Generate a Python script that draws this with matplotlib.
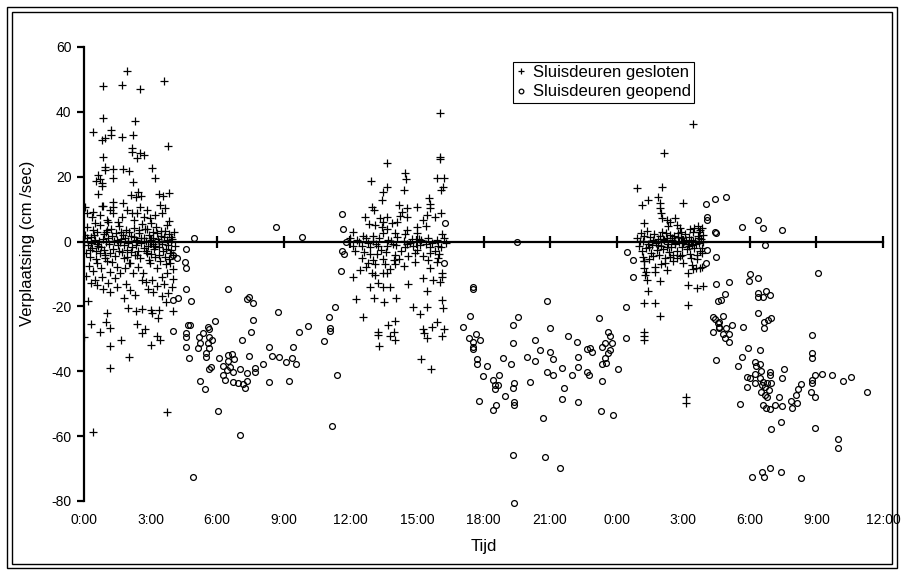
import matplotlib
matplotlib.use("Agg")
from matplotlib import pyplot as plt
from matplotlib.patches import Rectangle

plt.rcParams["font.family"] = ["Liberation Sans", "DejaVu Sans"]
plt.rcParams["axes.unicode_minus"] = False

# time in hours from 0:00 of the first day, displacement in cm/sec

# sluisdeuren gesloten (+), first period
closed_1 = [
    (1.92, 52.6), (0.84, 48.0), (1.73, 48.3), (2.52, 46.9), (3.60, 49.4), (0.84, 38.1),
    (2.30, 37.3), (0.42, 33.9), (1.22, 34.5), (1.22, 33.0), (0.95, 32.0), (0.80, 31.3),
    (1.73, 32.3), (2.19, 32.8), (3.77, 29.4), (2.18, 28.8), (2.18, 27.7), (2.52, 27.2),
    (2.72, 26.6), (2.37, 25.7), (0.84, 26.1), (0.95, 22.9), (0.95, 22.0), (1.32, 22.4),
    (1.32, 19.6), (0.62, 20.5), (0.55, 18.6), (0.70, 19.2), (0.80, 18.0), (0.82, 17.0),
    (1.77, 22.4), (2.04, 21.8), (2.19, 18.4), (3.05, 22.6), (3.20, 19.5), (0.63, 14.6),
    (2.10, 14.5), (2.45, 15.2), (2.55, 14.0), (2.35, 13.6), (3.40, 14.8), (3.55, 14.0),
    (3.85, 15.0), (1.32, 12.3), (1.32, 10.7), (0.84, 11.0), (0.05, 10.7), (0.42, 9.2),
    (0.80, 11.0), (1.17, 9.7), (1.32, 8.7), (1.77, 11.8), (1.92, 9.7), (2.15, 8.7),
    (2.37, 8.7), (2.52, 10.7), (2.83, 9.7), (2.97, 7.2), (3.20, 8.2), (3.42, 11.3),
    (3.65, 10.2), (3.50, 8.7), (0.12, 8.7), (0.35, 7.6), (0.72, 8.2), (1.02, 6.6),
    (1.55, 6.1), (1.70, 7.6),
    (0.05, 2.0), (0.08, -3.5), (0.12, 4.5), (0.18, -1.0), (0.22, -7.5), (0.27, -4.7),
    (0.30, 1.5), (0.35, -2.0), (0.40, 3.5), (0.42, -9.0), (0.48, 0.5), (0.52, -5.5),
    (0.57, -6.7), (0.60, 2.8), (0.65, -1.5), (0.70, -3.6), (0.72, 5.0), (0.78, -8.0),
    (0.80, -11.0), (0.85, 0.8), (0.90, -2.6), (0.95, -4.2), (0.98, 3.0), (1.03, -6.0),
    (1.08, 1.2), (1.12, -0.8), (1.17, -9.5), (1.20, 4.0), (1.25, -6.2), (1.30, -2.2),
    (1.35, 0.3), (1.40, -11.3), (1.45, 2.5), (1.47, -7.8), (1.52, -1.2), (1.57, 4.8),
    (1.62, -9.8), (1.66, 0.9), (1.70, -3.3), (1.75, 2.0), (1.80, -5.2), (1.85, -8.3),
    (1.88, 3.6), (1.92, -2.6), (1.97, 0.2), (2.02, -6.5), (2.07, -6.7), (2.10, 1.8),
    (2.15, -1.8), (2.20, -9.8), (2.24, 4.2), (2.30, -4.0), (2.35, 0.6), (2.37, -4.2),
    (2.42, -2.8), (2.45, -7.8), (2.50, 2.6), (2.55, -0.5), (2.60, -11.9), (2.63, 5.5),
    (2.67, -9.8), (2.72, 1.0), (2.78, -3.0), (2.82, -3.6), (2.86, 3.8), (2.92, -5.8),
    (2.97, -6.7), (3.00, 0.4), (3.05, -11.9), (3.10, 2.9), (3.15, -2.3), (3.20, -4.8),
    (3.25, 4.5), (3.28, -8.3), (3.32, 0.7), (3.38, -1.6), (3.42, -6.0), (3.45, 3.2),
    (3.50, -10.8), (3.55, -3.0), (3.60, 1.5), (3.65, -4.7), (3.68, -7.0), (3.72, 5.2),
    (3.73, -9.8), (3.78, -1.0), (3.82, 2.2), (3.85, -5.5), (3.88, -6.7), (3.92, -2.5),
    (3.96, 0.8), (4.00, -8.5), (4.05, 3.0), (4.08, -1.5), (0.30, -0.3), (1.00, 0.0),
    (2.00, -0.4), (2.80, 0.1), (3.40, -0.2), (3.90, 0.2), (1.60, -0.1), (0.60, -0.6),
    (2.40, 0.3), (3.10, -0.7),
    (0.15, 1.0), (0.25, -2.5), (0.45, 2.0), (0.55, -3.0), (0.68, 0.2), (0.75, -1.8),
    (0.88, 2.2), (0.93, -5.2), (1.05, 3.5), (1.15, -3.4), (1.28, 1.6), (1.38, -4.5),
    (1.50, 0.6), (1.58, -2.8), (1.68, 3.0), (1.78, -1.0), (1.83, 1.2), (1.95, -4.8),
    (2.05, 2.8), (2.12, -3.2), (2.27, 1.4), (2.33, -1.2), (2.47, 3.6), (2.52, -5.0),
    (2.58, 1.2), (2.69, -2.0), (2.75, 4.0), (2.88, -1.4), (2.95, 2.0), (3.02, -3.8),
    (3.13, 1.0), (3.22, -1.5), (3.30, 2.6), (3.36, -4.2), (3.48, 1.8), (3.53, -0.9),
    (3.63, 3.3), (3.70, -2.2), (3.76, 0.5), (3.86, -3.5), (3.94, 1.5), (4.02, -4.0),
    (1.10, 6.0), (2.25, 6.5), (3.00, 5.8), (3.85, 6.2), (0.50, 5.8), (2.70, 7.5),
    (0.60, -13.5), (1.50, -14.0), (2.90, -14.5), (3.30, -13.8), (1.80, -17.5), (3.70, -18.5),
    (0.30, -12.9), (0.19, -18.2), (1.10, -12.9), (1.17, -15.5), (2.07, -15.0), (2.30, -16.5),
    (3.12, -15.7), (3.50, -16.7), (3.80, -16.0), (2.00, -20.5), (2.35, -21.5), (2.60, -20.8),
    (3.00, -21.0), (3.40, -21.2), (3.05, -22.1), (3.35, -23.7), (4.03, -21.4), (1.05, -22.1),
    (0.99, -24.7), (1.17, -26.6), (0.30, -25.4), (0.72, -28.0), (0.00, -29.3), (2.37, -25.5),
    (2.75, -27.1), (2.60, -28.3), (3.27, -29.1), (3.43, -30.2), (3.01, -31.9), (1.65, -30.2),
    (1.17, -32.2), (2.04, -35.7), (1.17, -39.1), (3.72, -52.5), (0.42, -58.6), (0.10, -10.5),
    (0.50, -12.0), (1.90, -13.0), (2.80, -12.5), (3.60, -13.2), (4.00, -11.5), (3.95, -14.0),
    (0.85, -14.5),
]

# sluisdeuren gesloten (+), second period
closed_2 = [
    (16.04, 39.8), (16.04, 26.1), (16.04, 25.6), (13.64, 24.1), (14.47, 21.2), (14.50, 19.2),
    (12.93, 18.7), (15.92, 19.5), (16.22, 19.5), (16.19, 16.9), (16.07, 15.9), (13.64, 16.9),
    (13.49, 15.4), (13.44, 12.8), (14.43, 15.9), (15.56, 13.3), (15.59, 11.6), (15.59, 10.2),
    (14.21, 11.3), (14.54, 10.5), (14.99, 10.7), (12.96, 10.7), (13.08, 9.7), (12.66, 7.5),
    (12.86, 5.4), (13.11, 5.2), (13.34, 7.2), (13.49, 6.1), (13.64, 7.6), (13.41, 4.4),
    (13.64, 3.8), (13.87, 5.6), (14.09, 6.1), (14.32, 9.2), (14.24, 7.9), (14.57, 7.5),
    (14.54, 3.5), (14.99, 4.6), (15.29, 6.6), (15.44, 8.2), (15.82, 7.6), (16.07, 8.9),
    (15.41, 4.8), (12.14, 3.0), (12.59, 1.8), (13.04, 1.8), (13.49, 2.5), (14.02, 2.5),
    (14.47, 2.3), (14.99, 2.7), (16.12, 2.3),
    (12.14, -1.5), (12.51, -1.4), (12.89, -1.6), (13.26, -1.3), (13.64, -1.5), (14.06, -1.2),
    (14.47, -1.7), (14.84, -1.4), (15.14, -1.0), (15.59, -1.6), (15.97, -1.3),
    (12.51, -5.0), (12.81, -6.5), (13.11, -7.0), (13.49, -5.5), (13.56, -7.0), (14.02, -4.0),
    (14.02, -7.0), (14.93, -6.2), (15.29, -4.6), (15.59, -3.6), (15.97, -5.2), (15.89, -6.2),
    (12.44, -8.8), (12.96, -9.8), (13.11, -10.3), (13.49, -9.8), (13.64, -9.8), (16.12, -9.8),
    (16.12, -10.8), (12.00, 1.0), (12.30, 0.5), (12.70, 1.2), (13.00, 0.3), (13.30, 1.0),
    (13.70, 0.6), (14.10, 1.3), (14.40, 0.2), (14.80, 0.9), (15.20, 0.4), (15.50, 1.2),
    (15.90, 0.5), (16.20, 1.0), (12.20, -2.8), (12.80, -0.5), (13.40, -2.5), (13.90, -0.8),
    (14.30, -3.0), (14.70, -0.3), (15.00, -2.7), (15.40, -0.9), (15.80, -3.0), (16.10, -1.8),
    (16.30, -0.5), (13.20, -3.8), (14.60, -4.5), (15.60, -8.0), (13.80, -8.5), (12.60, -3.3),
    (12.40, -0.2), (13.15, -0.6), (13.85, 0.1), (14.55, -0.8), (15.10, 0.8), (15.70, -0.4),
    (12.90, -3.9), (13.60, -3.2), (14.20, -5.5), (14.90, -3.6), (15.50, -5.8), (16.00, -3.9),
    (13.00, -5.8), (13.95, -5.6), (12.70, -7.9), (14.40, -7.4),
    (12.11, -11.0), (12.89, -14.1), (13.26, -12.7), (13.49, -14.1), (13.79, -14.1), (14.61, -13.2),
    (15.29, -11.3), (15.71, -11.9), (16.04, -12.4), (15.47, -15.2), (12.26, -17.8), (13.07, -17.5),
    (13.52, -18.6), (14.06, -17.5), (14.84, -20.3), (15.14, -22.4), (15.47, -20.1), (16.12, -18.0),
    (16.16, -20.6), (12.59, -23.4), (13.71, -25.7), (14.02, -24.4), (13.26, -27.8), (13.26, -28.8),
    (13.79, -29.1), (13.97, -27.8), (14.02, -30.4), (13.30, -32.2), (15.29, -27.1), (15.32, -28.1),
    (15.44, -29.8), (15.67, -26.3), (15.89, -24.7), (16.22, -27.1), (16.12, -29.1), (15.19, -36.3),
    (15.64, -39.4),
]

# sluisdeuren gesloten (+), third period
closed_3 = [
    (27.46, 36.2), (26.15, 27.2), (24.91, 16.4), (26.03, 16.9), (25.13, 11.3), (25.43, 12.8),
    (25.84, 13.8), (25.96, 11.8), (27.01, 12.0), (25.96, 10.2), (25.99, 8.7), (26.03, 7.2),
    (26.26, 6.8), (26.41, 6.1), (26.63, 7.2), (26.71, 5.1), (26.86, 4.1), (27.31, 3.8),
    (27.68, 4.8), (27.76, 3.5), (27.84, 4.1), (25.21, 5.6), (26.33, 4.8), (27.50, 4.3),
    (27.70, 2.9),
    (24.90, 1.0), (25.00, -1.5), (25.10, 2.5), (25.15, -3.0), (25.20, 0.3), (25.30, -2.0),
    (25.35, 3.2), (25.40, -0.8), (25.50, 1.5), (25.55, -3.5), (25.60, -1.0), (25.70, 2.2),
    (25.75, -0.3), (25.80, -2.5), (25.85, 0.9), (25.90, -4.0), (25.95, 1.8), (26.00, -1.3),
    (26.05, 3.0), (26.10, -2.2), (26.15, 0.4), (26.20, -5.0), (26.25, 1.2), (26.30, -0.6),
    (26.35, -3.2), (26.40, 2.0), (26.45, -1.8), (26.50, 0.6), (26.55, -6.0), (26.60, 1.6),
    (26.65, -0.9), (26.70, -2.8), (26.75, 2.6), (26.80, -0.2), (26.85, -4.5), (26.90, 1.1),
    (26.95, -1.6), (27.00, -6.5), (27.05, 0.2), (27.10, 2.4), (27.15, -2.4), (27.20, -0.7),
    (27.25, 1.4), (27.30, -3.8), (27.35, 0.5), (27.40, -1.2), (27.45, 2.8), (27.50, -2.0),
    (27.55, 0.1), (27.60, -5.5), (27.65, 1.7), (27.70, -0.4), (27.75, -3.0), (27.80, 0.9),
    (27.85, -1.9), (27.90, 2.0), (25.25, -6.0), (25.45, -5.5), (26.00, -7.0), (27.40, -7.2),
    (25.05, 0.2), (25.25, 1.8), (25.45, -1.8), (25.65, 0.4), (25.88, -1.0), (26.08, 0.8),
    (26.28, -1.6), (26.48, 1.0), (26.62, -0.3), (26.78, 1.3), (26.98, -0.5), (27.12, 0.6),
    (27.28, -1.4), (27.42, 0.3), (27.58, -0.9), (27.72, 1.1), (27.88, -0.2), (26.22, 2.6),
    (26.88, 2.9), (25.62, -4.5), (26.72, -5.2), (27.35, -5.0),
    (25.18, -4.7), (25.21, -5.9), (25.21, -8.3), (25.33, -9.3), (25.28, -10.3), (25.36, -11.9),
    (25.73, -7.8), (25.73, -9.3), (26.18, -6.7), (26.26, -8.8), (26.41, -4.7), (26.56, -4.2),
    (26.93, -4.2), (27.23, -9.6), (27.46, -8.6), (27.76, -8.3), (27.84, -3.6), (27.61, -4.2),
    (27.56, -8.0), (27.85, -7.9), (25.96, -12.1), (25.40, -15.2), (27.23, -13.4), (27.61, -14.4),
    (27.91, -13.7), (25.25, -18.9), (25.73, -18.9), (27.23, -19.6), (25.93, -22.9), (25.21, -27.8),
    (25.21, -29.1), (25.21, -30.4), (27.13, -47.9), (27.13, -49.9),
]

# sluisdeuren geopend (o), first period
open_1 = [
    (4.59, -2.3), (4.03, -4.2), (4.18, -5.2), (4.55, -6.2), (4.59, -8.0), (4.59, -14.7),
    (4.03, -18.0), (4.22, -17.3), (4.03, -27.5), (4.70, -25.7), (4.59, -28.3), (4.59, -29.5),
    (4.59, -32.4), (4.72, -36.0), (4.97, 1.0), (6.62, 3.8), (8.65, 4.5), (9.84, 1.3),
    (11.61, 8.4), (11.68, 3.8), (4.82, -18.2), (6.50, -14.7), (7.36, -17.8), (7.42, -17.2),
    (7.63, -18.9), (8.76, -21.8), (7.60, -24.2), (7.52, -27.9), (7.10, -30.2), (5.90, -24.4),
    (4.78, -25.7), (5.19, -29.3), (5.15, -32.7), (5.22, -31.2), (5.38, -28.1), (5.57, -26.3),
    (5.64, -26.9), (5.64, -29.4), (5.75, -30.2), (5.57, -31.2), (5.64, -32.9), (5.50, -34.5),
    (5.50, -35.5), (5.62, -39.4), (5.71, -38.6), (5.23, -42.9), (5.44, -45.6), (6.10, -36.0),
    (6.28, -38.4), (6.25, -41.2), (6.35, -42.7), (6.50, -35.0), (6.66, -34.7), (6.50, -36.8),
    (6.76, -36.3), (6.58, -38.6), (6.46, -39.6), (6.73, -40.1), (7.03, -39.4), (6.70, -43.3),
    (6.95, -43.7), (7.18, -43.9), (7.25, -45.0), (7.33, -42.9), (7.36, -40.6), (7.71, -39.1),
    (7.71, -40.1), (7.44, -35.2), (8.08, -37.6), (8.35, -32.6), (8.46, -35.3), (8.79, -35.6),
    (9.10, -37.1), (9.38, -35.8), (9.55, -37.6), (9.40, -32.4), (8.32, -43.3), (9.25, -43.1),
    (9.69, -27.8), (10.11, -26.1), (10.83, -30.7), (11.05, -23.4), (11.08, -26.5), (11.08, -27.5),
    (11.30, -20.3), (11.38, -41.1), (11.58, -9.0), (11.61, -2.8), (11.73, -3.9), (11.79, 0.0),
    (6.02, -52.2), (7.05, -59.7), (4.93, -72.5), (11.16, -56.9),
]

# sluisdeuren geopend (o), second period
open_2 = [
    (16.27, 5.8), (16.22, -6.5), (19.50, 0.0), (17.54, -13.9), (17.54, -14.6), (17.40, -22.8),
    (17.09, -26.4), (17.35, -29.6), (17.54, -30.9), (17.65, -28.5), (17.85, -30.4), (17.51, -32.4),
    (17.51, -33.1), (17.69, -36.3), (17.69, -37.8), (18.14, -38.4), (17.99, -41.4), (17.81, -49.1),
    (18.45, -42.7), (18.52, -44.2), (18.72, -41.2), (18.67, -44.2), (18.52, -45.6), (18.97, -47.5),
    (18.57, -50.4), (18.45, -52.0), (18.89, -36.0), (19.22, -37.8), (19.35, -25.7), (19.54, -23.4),
    (19.35, -31.2), (19.38, -43.7), (19.35, -45.3), (19.38, -49.4), (19.38, -50.4), (19.35, -65.8),
    (19.38, -80.5), (19.95, -35.5), (20.10, -43.2), (20.32, -30.4), (20.32, -36.8), (20.55, -33.5),
    (20.70, -54.5), (20.77, -66.4), (21.45, -69.9), (20.88, -18.2), (21.00, -26.6), (21.00, -34.0),
    (21.15, -36.2), (20.85, -40.1), (21.15, -41.2), (21.53, -38.9), (21.63, -45.3), (21.54, -48.4),
    (21.82, -29.0), (21.98, -41.0), (22.23, -31.1), (22.28, -35.5), (22.28, -38.6), (22.28, -49.4),
    (22.65, -33.2), (22.80, -32.9), (22.88, -34.0), (22.65, -40.1), (22.77, -41.0), (23.22, -23.7),
    (23.33, -32.6), (23.48, -31.4), (23.63, -27.8), (23.70, -29.1), (23.78, -31.4), (23.70, -33.5),
    (23.63, -34.5), (23.48, -35.8), (23.33, -37.6), (23.52, -37.3), (23.33, -43.0), (23.28, -52.2),
    (23.85, -53.5), (24.08, -39.4), (24.45, -3.3), (24.72, -5.7), (24.72, -10.9), (24.43, -20.1),
    (24.43, -29.7),
]

# sluisdeuren geopend (o), third period
open_3 = [
    (28.48, 2.7), (28.46, -4.7), (28.06, -2.6), (28.03, -6.5), (28.46, -13.1), (28.58, -18.3),
    (28.36, -23.2), (28.44, -24.0), (28.58, -25.0), (28.63, -26.5), (28.36, -27.8), (28.46, -36.5),
    (28.03, 11.5), (28.43, 13.1), (28.06, 7.6), (28.06, 6.8), (28.43, 2.8), (28.93, 13.8),
    (29.63, 4.6), (30.39, 6.6), (30.58, 4.3), (31.47, 3.5), (30.69, -1.1), (33.09, -9.6),
    (30.01, -10.1), (30.39, -11.3), (29.98, -12.1), (29.07, -12.4), (28.90, -16.3), (28.71, -18.0),
    (30.39, -16.0), (30.39, -17.0), (30.58, -17.2), (30.73, -15.3), (30.91, -16.5), (30.39, -21.9),
    (28.63, -24.7), (28.78, -23.0), (28.63, -26.3), (28.91, -26.5), (29.18, -25.7), (28.81, -28.6),
    (29.05, -28.6), (28.89, -29.8), (29.05, -30.9), (29.67, -26.3), (30.64, -24.7), (30.84, -24.2),
    (30.97, -23.6), (30.64, -26.6), (32.79, -28.7), (32.79, -34.5), (32.79, -35.8), (29.91, -32.9),
    (29.63, -35.5), (30.46, -33.5), (29.46, -38.4), (30.24, -37.1), (30.28, -38.3), (30.46, -37.8),
    (30.49, -39.9), (30.24, -40.9), (30.91, -40.1), (30.91, -41.0), (31.56, -39.4), (31.47, -42.2),
    (29.89, -41.9), (30.01, -42.2), (29.89, -44.8), (30.24, -43.5), (30.46, -42.2), (30.61, -43.2),
    (30.54, -44.2), (30.69, -44.8), (30.79, -43.7), (30.96, -43.7), (30.87, -45.8), (30.49, -46.5),
    (30.69, -47.3), (30.76, -47.9), (30.61, -50.4), (30.73, -51.4), (30.91, -51.6), (31.14, -50.4),
    (31.44, -50.7), (31.31, -48.0), (29.57, -50.2), (31.85, -49.2), (31.89, -51.2), (32.11, -49.7),
    (32.09, -47.3), (32.19, -45.6), (32.31, -43.9), (32.79, -42.7), (32.79, -43.5), (32.94, -41.2),
    (33.24, -40.9), (32.75, -46.3), (32.95, -48.0), (33.69, -41.2), (34.19, -43.0), (34.58, -41.9),
    (35.30, -46.5), (31.39, -55.6), (30.94, -57.7), (32.95, -57.5), (33.99, -60.9), (33.99, -63.6),
    (30.10, -72.7), (30.54, -71.2), (30.64, -72.7), (30.91, -69.7), (31.39, -71.1), (32.31, -73.0),
]

tick_hours = [0, 3, 6, 9, 12, 15, 18, 21, 24, 27, 30, 33, 36]
tick_labels = ["0:00", "3:00", "6:00", "9:00", "12:00", "15:00", "18:00",
               "21:00", "0:00", "3:00", "6:00", "9:00", "12:00"]
y_ticks = [-80, -60, -40, -20, 0, 20, 40, 60]

closed = closed_1 + closed_2 + closed_3
opened = open_1 + open_2 + open_3

fig = plt.figure(figsize=(9.01, 5.72), dpi=100)
ax = fig.add_axes([84 / 901, 1 - 501 / 572, 799 / 901, 454 / 572])

ax.plot([p[0] for p in closed], [p[1] for p in closed], linestyle="none",
        marker="+", markersize=5.5, markeredgewidth=0.9, color="black",
        label="Sluisdeuren gesloten")
ax.plot([p[0] for p in opened], [p[1] for p in opened], linestyle="none",
        marker="o", markersize=4.2, markeredgewidth=0.9, markerfacecolor="none",
        markeredgecolor="black", label="Sluisdeuren geopend", clip_on=False)

ax.set_xlim(0, 36)
ax.set_ylim(-80, 60)

# axes look: left spine + horizontal axis through zero
for side in ["top", "right"]:
    ax.spines[side].set_visible(False)
ax.spines["left"].set_linewidth(1.6)
ax.spines["bottom"].set_position(("data", 0))
ax.spines["bottom"].set_linewidth(1.6)

ax.set_xticks(tick_hours)
ax.tick_params(axis="x", direction="inout", length=9, width=1.6, labelbottom=False)
ax.set_yticks(y_ticks)
ax.tick_params(axis="y", direction="out", length=5, width=1.6, labelsize=10, pad=4)

# time labels along the bottom of the plot area
sec = ax.secondary_xaxis("bottom")
sec.spines["bottom"].set_visible(False)
sec.set_xticks(tick_hours)
sec.set_xticklabels(tick_labels)
sec.tick_params(length=0, labelsize=10, pad=9)
sec.set_xlabel("Tijd", fontsize=12, labelpad=8)

ax.set_ylabel("Verplaatsing (cm /sec)", fontsize=12)
ax.yaxis.set_label_coords(-0.061, 0.568)

leg = ax.legend(loc="upper left", bbox_to_anchor=(513 / 901, 1 - 62 / 572),
                bbox_transform=fig.transFigure, fontsize=12, frameon=True,
                fancybox=False, edgecolor="black", framealpha=1,
                borderpad=0.2, handlelength=0.6, handletextpad=0.4,
                labelspacing=0.25, borderaxespad=0, markerscale=0.8)
leg.get_frame().set_linewidth(0.8)

# double frame around the chart
fig.patches.append(Rectangle((7 / 901, 4 / 572), 890 / 901, 561 / 572, transform=fig.transFigure,
                             fill=False, edgecolor="black", linewidth=1.0))
fig.patches.append(Rectangle((12 / 901, 8 / 572), 880 / 901, 552 / 572, transform=fig.transFigure,
                             fill=False, edgecolor="black", linewidth=1.0))

fig.savefig("out.png", dpi=100)
